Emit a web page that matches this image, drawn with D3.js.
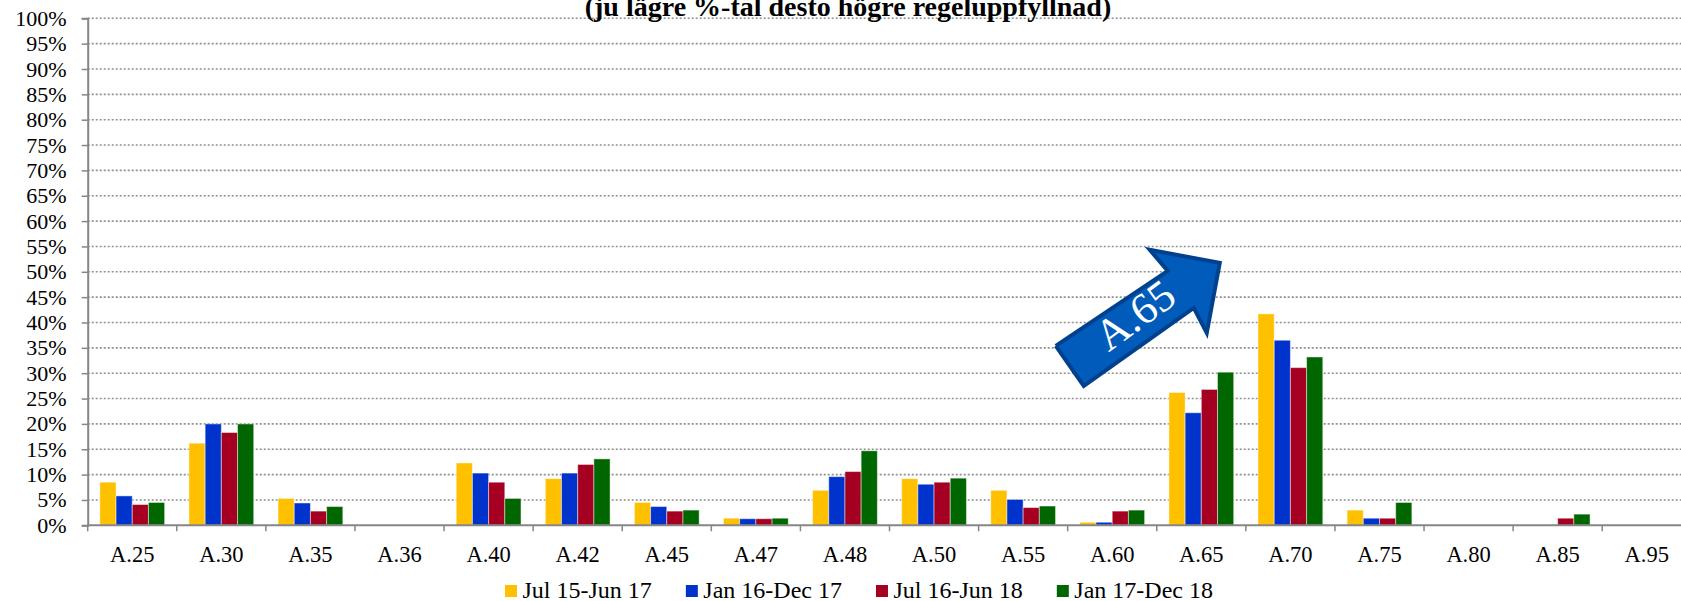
<!DOCTYPE html>
<html>
<head>
<meta charset="utf-8">
<script src="https://cdn.jsdelivr.net/npm/d3@7"></script>
<style>
    html, body { margin: 0; padding: 0; background: #fff; }
    svg { display: block; font-family: "Liberation Serif", "Times New Roman", serif; }
</style>
</head>
<body>
<div id="chart"></div>
<script>
// Chart data (percent of checks not fulfilled)
const categories = ['A.25', 'A.30', 'A.35', 'A.36', 'A.40', 'A.42', 'A.45', 'A.47', 'A.48',
    'A.50', 'A.55', 'A.60', 'A.65', 'A.70', 'A.75', 'A.80', 'A.85', 'A.95'];
const seriesNames = ['Jul 15-Jun 17', 'Jan 16-Dec 17', 'Jul 16-Jun 18', 'Jan 17-Dec 18'];
const jul15Jun17 = [8.5, 16.2, 5.3, 0, 12.3, 9.2, 4.5, 1.4, 6.9, 9.2, 6.9, 0.6, 26.2, 41.7, 3.0, 0, 0, 0];
const jan16Dec17 = [5.8, 20.0, 4.4, 0, 10.3, 10.3, 3.7, 1.3, 9.6, 8.1, 5.1, 0.6, 22.2, 36.5, 1.4, 0, 0, 0];
const jul16Jun18 = [4.1, 18.3, 2.8, 0, 8.5, 12.0, 2.8, 1.3, 10.6, 8.5, 3.5, 2.8, 26.8, 31.1, 1.4, 0, 1.4, 0];
const jan17Dec18 = [4.5, 20.0, 3.7, 0, 5.3, 13.1, 3.0, 1.4, 14.7, 9.3, 3.8, 3.0, 30.2, 33.2, 4.5, 0, 2.2, 0];
const yTicks = d3.range(0, 101, 5);
const seriesColors = ['#FFC000', '#0033CC', '#A50021', '#006600'];
const titleText = '(ju lägre %-tal desto högre regeluppfyllnad)';
const arrowLabel = 'A.65';

class ChartPage {
    constructor() {
        this.width = 1681;
        this.height = 601;
        this.margin = { top: 18.3, left: 87.7, bottom: 525.3, right: 1691.3 };
        this.series = [jul15Jun17, jan16Dec17, jul16Jun18, jan17Dec18];
        this.svg = d3.select('#chart').append('svg')
            .attr('width', this.width)
            .attr('height', this.height);
        this.setupScales();
        this.drawGrid();
        this.drawBars();
        this.drawAxes();
        this.drawTitle();
        this.drawLegend();
        this.drawArrow();
    }

    setupScales() {
        this.x0 = d3.scaleBand()
            .domain(categories)
            .range([this.margin.left, this.margin.right])
            .paddingInner(0.273)
            .paddingOuter(0.1365);
        this.x1 = d3.scaleBand()
            .domain(d3.range(seriesNames.length))
            .range([0, this.x0.bandwidth()]);
        this.y = d3.scaleLinear()
            .domain([0, 100])
            .range([this.margin.bottom, this.margin.top]);
    }

    drawGrid() {
        this.svg.append('g')
            .selectAll('line')
            .data(yTicks.filter(d => d > 0))
            .join('line')
            .attr('x1', this.margin.left)
            .attr('x2', this.width)
            .attr('y1', d => this.y(d))
            .attr('y2', d => this.y(d))
            .attr('stroke', '#8f8f8f')
            .attr('stroke-width', 1.6)
            .attr('stroke-dasharray', '2,2');
    }

    drawBars() {
        const groups = this.svg.append('g')
            .selectAll('g')
            .data(categories)
            .join('g')
            .attr('transform', d => `translate(${this.x0(d)},0)`);

        groups.selectAll('rect')
            .data((d, i) => this.series.map((s, k) => ({ k, value: s[i] })).filter(b => b.value > 0))
            .join('rect')
            .attr('x', b => this.x1(b.k))
            .attr('width', this.x1.bandwidth())
            .attr('y', b => this.y(b.value))
            .attr('height', b => this.y(0) - this.y(b.value))
            .attr('fill', b => seriesColors[b.k])
            .attr('stroke', 'rgba(255,255,255,0.45)')
            .attr('stroke-width', 1);
    }

    drawAxes() {
        const axisColor = '#868686';

        // y axis
        const yAxis = this.svg.append('g')
            .attr('transform', `translate(${this.margin.left},0)`)
            .call(d3.axisLeft(this.y)
                .tickValues(yTicks)
                .tickFormat(d => d + '%')
                .tickSize(6)
                .tickPadding(15));
        yAxis.select('.domain').attr('stroke', axisColor).attr('stroke-width', 2);
        yAxis.selectAll('.tick line').attr('stroke', axisColor).attr('stroke-width', 1.5);
        yAxis.selectAll('.tick text')
            .attr('fill', '#000')
            .style('font-size', '22px')
            .style('font-family', '"Liberation Serif", serif');

        // x axis line and category separators
        const step = this.x0.step();
        const bounds = d3.range(categories.length + 1).map(i => this.margin.left + i * step);
        this.svg.append('line')
            .attr('x1', this.margin.left)
            .attr('x2', this.width)
            .attr('y1', this.y(0))
            .attr('y2', this.y(0))
            .attr('stroke', axisColor)
            .attr('stroke-width', 2);
        this.svg.append('g')
            .selectAll('line')
            .data(bounds)
            .join('line')
            .attr('x1', d => d)
            .attr('x2', d => d)
            .attr('y1', this.y(0))
            .attr('y2', this.y(0) + 6)
            .attr('stroke', axisColor)
            .attr('stroke-width', 1.5);

        this.svg.append('g')
            .selectAll('text')
            .data(categories)
            .join('text')
            .attr('x', d => this.x0(d) + this.x0.bandwidth() / 2)
            .attr('y', this.y(0) + 37)
            .attr('text-anchor', 'middle')
            .style('font-size', '22.5px')
            .text(d => d);
    }

    drawTitle() {
        // first title line sits above the picture, only this line shows
        this.svg.append('text')
            .attr('x', 848)
            .attr('y', 16)
            .attr('text-anchor', 'middle')
            .style('font-size', '28px')
            .style('font-weight', 'bold')
            .text(titleText);
    }

    drawLegend() {
        const legend = this.svg.append('g');
        let cursor = 505;
        seriesNames.forEach((name, i) => {
            const g = legend.append('g').attr('transform', `translate(${cursor},0)`);
            g.append('rect')
                .attr('x', 0)
                .attr('y', 585)
                .attr('width', 12)
                .attr('height', 12)
                .attr('fill', seriesColors[i]);
            const t = g.append('text')
                .attr('x', 17.5)
                .attr('y', 598)
                .style('font-size', '24px')
                .text(name);
            cursor += 17.5 + t.node().getComputedTextLength() + 34;
        });
    }

    drawArrow() {
        // block arrow annotation, local coords centred on the shaft
        const shape = [
            [-82, 35], [-54, 75], [56, -3], [69, 22], [82, -48], [12, -61], [30, -40], [-82, 35]
        ];
        const cx = this.x0('A.65') - this.x0.step() * 0.1365 - 19;
        const cy = this.y(42.3);
        const g = this.svg.append('g').attr('transform', `translate(${cx},${cy})`);
        g.append('path')
            .attr('d', d3.line()(shape))
            .attr('fill', '#005BBB')
            .attr('stroke', '#00418E')
            .attr('stroke-width', 4)
            .attr('stroke-linejoin', 'miter');
        g.append('text')
            .attr('transform', 'translate(0,8) rotate(-36)')
            .attr('text-anchor', 'middle')
            .attr('dominant-baseline', 'middle')
            .attr('fill', '#fff')
            .style('font-size', '44px')
            .text(arrowLabel);
    }
}

const chartPage = new ChartPage();
</script>
</body>
</html>
